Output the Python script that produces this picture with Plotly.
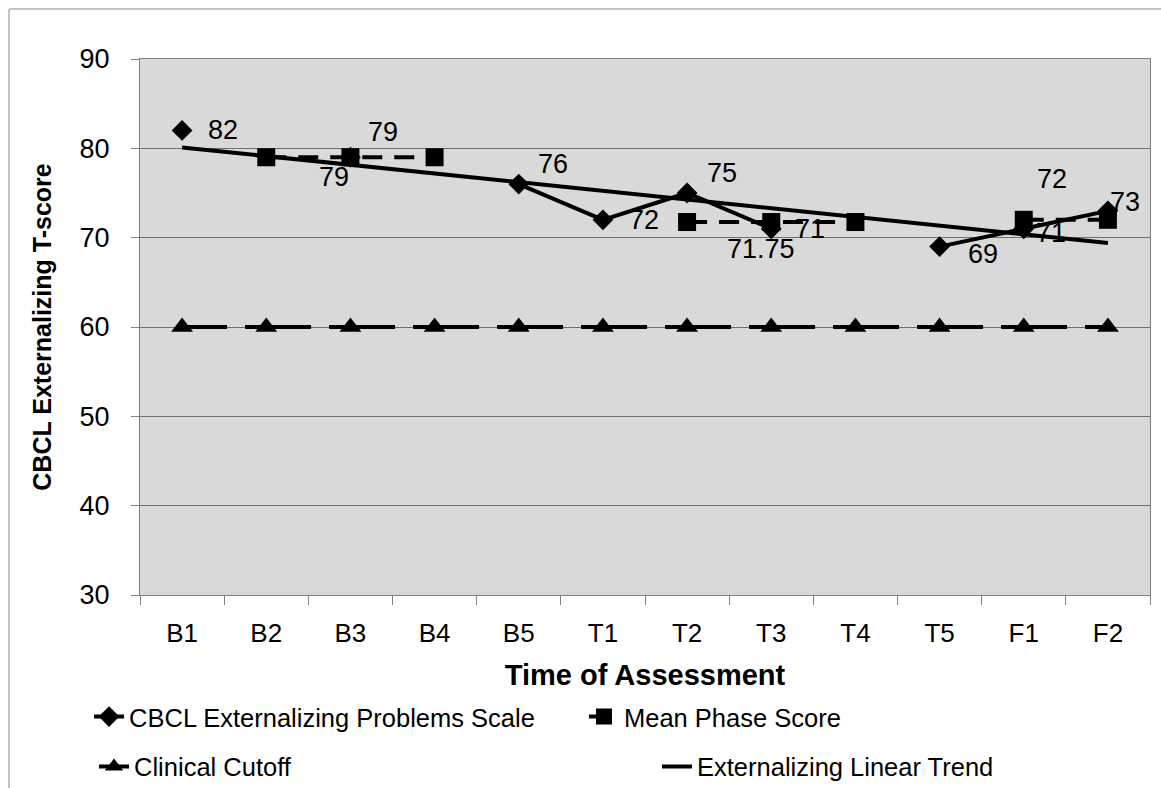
import plotly.graph_objects as go

# Assessment points
times = ["B1", "B2", "B3", "B4", "B5", "T1", "T2", "T3", "T4", "T5", "F1", "F2"]

# CBCL externalizing T-scores (None = not assessed)
cbcl = [82, None, 79, None, 76, 72, 75, 71, None, 69, 71, 73]

# Mean phase scores (baseline, treatment, follow-up)
phase = [None, 79, 79, 79, None, None, 71.75, 71.75, 71.75, None, 72, 72]
phase_lbl = ["", "", "79", "", "", "", "", "71.75", "", "", "72", ""]

# Clinical cutoff
cutoff = [60] * 12

# Linear trend end points
trend_x = ["B1", "F2"]
trend_y = [80.1, 69.4]

# label offsets in px (dx right, dy up), as placed in the original
cbcl_off = [(41, 0), None, (33, 25), None, (34, 20), (41, 0), (35, 20),
            (39, 0), None, (43, -7), (27, -4), (17, 9)]
phase_off = [None, None, (-16, -20), None, None, None, None, (-10, -27),
             None, None, (28, 41), None]

FONT = "Arial, Liberation Sans, sans-serif"

fig = go.Figure()

fig.add_trace(go.Scatter(
    x=times, y=cutoff, name="Clinical Cutoff", mode="lines+markers",
    line=dict(color="black", width=4, dash="45px,18px,21px,0px"),
    marker=dict(symbol="triangle-up", size=19, color="black"),
    legend="legend3",
))

fig.add_trace(go.Scatter(
    x=trend_x, y=trend_y, name="Externalizing Linear Trend", mode="lines",
    line=dict(color="black", width=4),
    legend="legend4",
))

fig.add_trace(go.Scatter(
    x=times, y=phase, name="Mean Phase Score", mode="lines+markers",
    line=dict(color="black", width=4, dash="20px,12px"),
    marker=dict(symbol="square", size=18, color="black"),
    legend="legend2",
))

fig.add_trace(go.Scatter(
    x=times, y=cbcl, name="CBCL Externalizing Problems Scale", mode="lines+markers",
    line=dict(color="black", width=4),
    marker=dict(symbol="diamond", size=16, color="black"),
    legend="legend",
))

annotations = []
for t, v, off in zip(times, cbcl, cbcl_off):
    if v is None or off is None:
        continue
    annotations.append(dict(x=t, y=v, text=str(v), showarrow=False,
                            xshift=off[0], yshift=off[1],
                            font=dict(size=27, color="black", family=FONT)))
for t, v, lbl, off in zip(times, phase, phase_lbl, phase_off):
    if v is None or off is None or not lbl:
        continue
    annotations.append(dict(x=t, y=v, text=lbl, showarrow=False,
                            xshift=off[0], yshift=off[1],
                            font=dict(size=27, color="black", family=FONT)))


def leg(x, y):
    return dict(orientation="h", x=x, y=y, xref="container", yref="container",
                xanchor="left", yanchor="middle",
                font=dict(size=25.5, family=FONT, color="black"),
                bgcolor="rgba(0,0,0,0)")


fig.update_layout(
    width=1161, height=788,
    margin=dict(l=140, r=11, t=59, b=193),
    paper_bgcolor="white",
    plot_bgcolor="#D9D9D9",
    font=dict(family=FONT, size=26, color="black"),
    showlegend=True,
    legend=leg(0.0767, 0.0901),
    legend2=leg(0.503, 0.0901),
    legend3=leg(0.081, 0.0267),
    legend4=leg(0.5659, 0.0267),
    annotations=annotations,
    shapes=[dict(type="rect", xref="paper", yref="paper",
                 x0=-0.1297, x1=1.5, y0=-1, y1=1.0933,
                 line=dict(color="#888888", width=1), layer="below")],
)

fig.update_xaxes(
    type="category", categoryorder="array", categoryarray=times,
    range=[-0.5, 11.5], showgrid=False, automargin=False,
    showline=True, linecolor="#808080", linewidth=1, mirror=True,
    ticks="outside", tickson="boundaries", ticklen=9, tickcolor="#808080",
    ticklabelstandoff=15,
    tickfont=dict(size=26),
    title=dict(text="<b>Time of Assessment</b>", font=dict(size=29), standoff=17),
)

fig.update_yaxes(
    range=[30, 90], dtick=10, showgrid=True, gridcolor="#707070", gridwidth=1,
    automargin=False,
    showline=True, linecolor="#808080", linewidth=1, mirror=True, zeroline=False,
    ticks="outside", ticklen=8, tickcolor="#808080",
    ticklabelstandoff=16,
    tickfont=dict(size=27),
    title=dict(text="<b>CBCL Externalizing T-score</b>", font=dict(size=25), standoff=20),
)

fig.write_html("out.html", config={"displayModeBar": False},
               post_script="document.body.style.margin='0';")
